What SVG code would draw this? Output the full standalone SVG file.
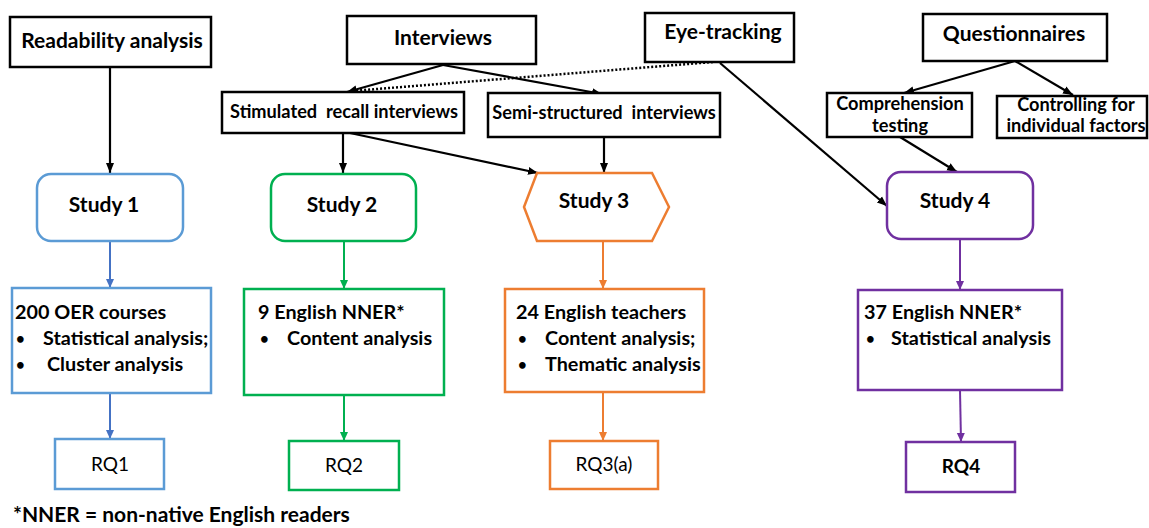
<svg xmlns="http://www.w3.org/2000/svg" width="1149" height="528" viewBox="0 0 1149 528">
<defs>
<marker id="ak" markerUnits="userSpaceOnUse" markerWidth="11" markerHeight="10" refX="10" refY="5" orient="auto"><path d="M0,1 L10,5 L0,9 z" fill="#000"/></marker>
<marker id="ab" markerUnits="userSpaceOnUse" markerWidth="10" markerHeight="10" refX="9" refY="5" orient="auto"><path d="M0,1 L9,5 L0,9 z" fill="#4472C4"/></marker>
<marker id="ag" markerUnits="userSpaceOnUse" markerWidth="10" markerHeight="10" refX="9" refY="5" orient="auto"><path d="M0,1 L9,5 L0,9 z" fill="#00B050"/></marker>
<marker id="ao" markerUnits="userSpaceOnUse" markerWidth="10" markerHeight="10" refX="9" refY="5" orient="auto"><path d="M0,1 L9,5 L0,9 z" fill="#ED7D31"/></marker>
<marker id="ap" markerUnits="userSpaceOnUse" markerWidth="10" markerHeight="10" refX="9" refY="5" orient="auto"><path d="M0,1 L9,5 L0,9 z" fill="#7030A0"/></marker>
</defs>
<style>
text { font-family: Lato, "Liberation Sans", sans-serif; font-weight: bold; fill: #000; }
.c { text-anchor: middle; }
.f21 { font-size: 21px; }
.f20 { font-size: 19.8px; }
.f18 { font-size: 18.2px; }
.f19 { font-size: 19px; }
.bul { font-size: 15px; }
.reg { font-weight: normal; }
.bx { fill: #fff; stroke: #000; stroke-width: 2.5; }
.blue { fill: #fff; stroke: #5B9BD5; stroke-width: 2.5; }
.green { fill: #fff; stroke: #00B050; stroke-width: 2.5; }
.orange { fill: #fff; stroke: #ED7D31; stroke-width: 2.5; }
.purple { fill: #fff; stroke: #7030A0; stroke-width: 2.5; }
.lk { fill: none; stroke: #000; stroke-width: 2.2; marker-end: url(#ak); }
.dot { fill: none; stroke: #000; stroke-width: 2.5; stroke-dasharray: 2 2; }
.lb { fill: none; stroke: #4472C4; stroke-width: 2; marker-end: url(#ab); }
.lg { fill: none; stroke: #00B050; stroke-width: 2; marker-end: url(#ag); }
.lo { fill: none; stroke: #ED7D31; stroke-width: 2; marker-end: url(#ao); }
.lp { fill: none; stroke: #7030A0; stroke-width: 2; marker-end: url(#ap); }
</style>
<rect width="1149" height="528" fill="#fff"/>
<g id="connectors">
<path class="lk" d="M110,67 L110,173"/>
<path class="lk" d="M443,65 L347,92"/>
<path class="lk" d="M443,65 L602,94"/>
<path class="dot" d="M713,62 L352,91"/>
<path class="lk" d="M720,63 L887,206"/>
<path class="lk" d="M343,133 L343,173"/>
<path class="lk" d="M350,133 L538,173"/>
<path class="lk" d="M604,137 L604,173"/>
<path class="lk" d="M1015,61 L904,93"/>
<path class="lk" d="M1015,61 L1073,95"/>
<path class="lk" d="M900,137 L957,172"/>
<path class="lb" d="M110,241 L110,288"/>
<path class="lb" d="M110,393 L110,439"/>
<path class="lg" d="M344,241 L344,289"/>
<path class="lg" d="M344,395 L344,441"/>
<path class="lo" d="M603,241 L603,289"/>
<path class="lo" d="M603,392 L603,441"/>
<path class="lp" d="M960,239 L960,290"/>
<path class="lp" d="M960,390 L961,442"/>
</g>
<g id="readability"><rect class="bx" x="10" y="17" width="201" height="50"/><text class="f21 c" x="112" y="48">Readability analysis</text></g>
<g id="interviews"><rect class="bx" x="347" y="16" width="189" height="48"/><text class="f21 c" x="443" y="45">Interviews</text></g>
<g id="eyetracking"><rect class="bx" x="645" y="13" width="149" height="49"/><text class="f21 c" x="723" y="39">Eye-tracking</text></g>
<g id="questionnaires"><rect class="bx" x="923" y="14" width="184" height="47"/><text class="f21 c" x="1014" y="41">Questionnaires</text></g>
<g id="stimulated"><rect class="bx" x="222" y="92" width="242" height="41"/><text class="f18 c" x="344" y="118" xml:space="preserve">Stimulated  recall interviews</text></g>
<g id="semistructured"><rect class="bx" x="488" y="93" width="232" height="44"/><text class="f18 c" x="604" y="119" xml:space="preserve">Semi-structured  interviews</text></g>
<g id="comprehension"><rect class="bx" x="827" y="93" width="145" height="44"/><text class="f18 c" x="900" y="110">Comprehension</text><text class="f18 c" x="900" y="132">testing</text></g>
<g id="controlling"><rect class="bx" x="997" y="96" width="150" height="42"/><text class="f18 c" x="1076" y="111">Controlling for</text><text class="f18 c" x="1076" y="132">individual factors</text></g>
<g id="study1"><rect class="blue" x="37" y="174" width="146" height="67" rx="14"/><text class="f21 c" x="104" y="212">Study 1</text></g>
<g id="study2"><rect class="green" x="271" y="174" width="145" height="67" rx="14"/><text class="f21 c" x="342" y="212">Study 2</text></g>
<g id="study3"><polygon class="orange" points="524,207 537,173 652,173 669,207 652,241 537,241"/><text class="f21 c" x="594" y="208">Study 3</text></g>
<g id="study4"><rect class="purple" x="887" y="172" width="146" height="67" rx="14"/><text class="f21 c" x="955" y="208">Study 4</text></g>
<g id="data1"><rect class="blue" x="12" y="288" width="199" height="105"/>
<text class="f20" x="15" y="319">200 OER courses</text>
<text class="bul" x="16" y="344">•</text><text class="f20" x="43" y="345">Statistical analysis;</text>
<text class="bul" x="16" y="370">•</text><text class="f20" x="47" y="371">Cluster analysis</text></g>
<g id="data2"><rect class="green" x="244" y="289" width="200" height="106"/>
<text class="f20" x="258" y="319">9 English NNER*</text>
<text class="bul" x="260" y="344">•</text><text class="f20" x="287" y="345">Content analysis</text></g>
<g id="data3"><rect class="orange" x="505" y="289" width="199" height="103"/>
<text class="f20" x="516" y="319">24 English teachers</text>
<text class="bul" x="518" y="344">•</text><text class="f20" x="545" y="345">Content analysis;</text>
<text class="bul" x="518" y="370">•</text><text class="f20" x="545" y="371">Thematic analysis</text></g>
<g id="data4"><rect class="purple" x="858" y="290" width="204" height="100"/>
<text class="f20" x="864" y="319">37 English NNER*</text>
<text class="bul" x="866" y="344">•</text><text class="f20" x="891" y="345">Statistical analysis</text></g>
<g id="rq1"><rect class="blue" x="55" y="439" width="109" height="50"/><text class="f19 c reg" x="110" y="471">RQ1</text></g>
<g id="rq2"><rect class="green" x="289" y="441" width="110" height="49"/><text class="f19 c reg" x="344" y="472">RQ2</text></g>
<g id="rq3"><rect class="orange" x="550" y="441" width="108" height="48"/><text class="f19 c reg" x="604" y="471">RQ3(a)</text></g>
<g id="rq4"><rect class="purple" x="906" y="442" width="109" height="50"/><text class="f19 c" x="961" y="473">RQ4</text></g>
<g id="footnote"><text class="f21" x="13" y="522">*NNER = non-native English readers</text></g>
</svg>
